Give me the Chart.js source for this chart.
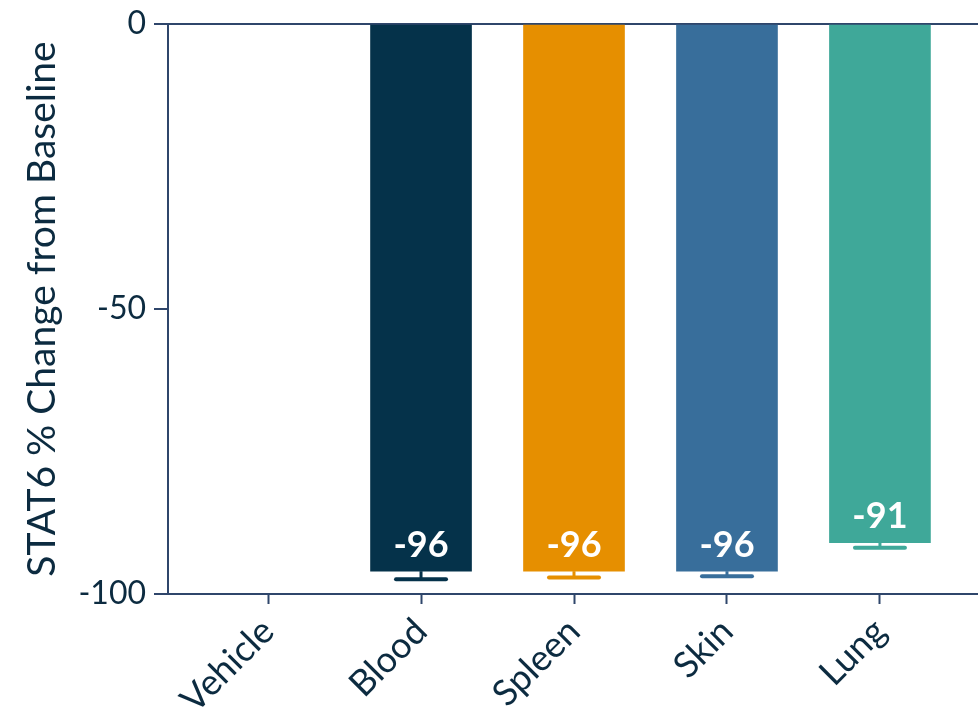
<!DOCTYPE html>
<html>
<head>
<meta charset="utf-8">
<script src="https://cdn.jsdelivr.net/npm/chart.js@4"></script>
<style>
  body { margin: 0; background: #ffffff; overflow: hidden; }
  #wrap { width: 1000px; height: 714px; }
</style>
</head>
<body>
<div id="wrap"><canvas id="stat6Chart"></canvas></div>
<script>
const tissues = ['Vehicle', 'Blood', 'Spleen', 'Skin', 'Lung'];
const changeFromBaseline = [0, -96, -96, -96, -91];
const errorSD = [0, 1.4, 1.1, 0.9, 0.9];
const barColors = ['rgba(0,0,0,0)', '#05324a', '#e68f00', '#386e9b', '#3fa899'];
const yTicks = [-100, -50, 0];

const axisColor = '#2f466b';
const textColor = '#0c2b40';

// error whiskers under each bar
const errorBars = {
  id: 'errorBars',
  afterDatasetsDraw(chart) {
    const ctx = chart.ctx;
    const y = chart.scales.y;
    chart.getDatasetMeta(0).data.forEach((bar, i) => {
      if (!errorSD[i]) return;
      const yEnd = y.getPixelForValue(changeFromBaseline[i] - errorSD[i]);
      ctx.save();
      ctx.strokeStyle = barColors[i];
      ctx.lineWidth = 3;
      ctx.beginPath();
      ctx.moveTo(bar.x, bar.y);
      ctx.lineTo(bar.x, yEnd);
      ctx.stroke();
      ctx.lineWidth = 4;
      ctx.lineCap = 'round';
      ctx.beginPath();
      ctx.moveTo(bar.x - 25, yEnd);
      ctx.lineTo(bar.x + 25, yEnd);
      ctx.stroke();
      ctx.restore();
    });
  }
};

// value printed inside the bar end
const valueLabels = {
  id: 'valueLabels',
  afterDatasetsDraw(chart) {
    const ctx = chart.ctx;
    chart.getDatasetMeta(0).data.forEach((bar, i) => {
      if (!changeFromBaseline[i]) return;
      ctx.save();
      ctx.fillStyle = '#ffffff';
      ctx.font = 'bold 36px Lato';
      ctx.textAlign = 'center';
      ctx.textBaseline = 'middle';
      ctx.fillText(String(changeFromBaseline[i]), bar.x, bar.y - 26);
      ctx.restore();
    });
  }
};

const ctx = document.getElementById('stat6Chart').getContext('2d');
new Chart(ctx, {
  type: 'bar',
  data: {
    datasets: [{
      data: tissues.map((t, i) => ({ x: i, y: changeFromBaseline[i] })),
      backgroundColor: barColors,
      borderWidth: 0,
      barThickness: 101
    }]
  },
  options: {
    responsive: true,
    maintainAspectRatio: false,
    animation: false,
    layout: { padding: { top: 22, right: 20, left: 0, bottom: 0 } },
    plugins: {
      legend: { display: false },
      tooltip: { enabled: false }
    },
    scales: {
      x: {
        type: 'linear',
        offset: false,
        min: -0.654,
        max: 4.654,
        afterBuildTicks(scale) {
          scale.ticks = tissues.map((t, i) => ({ value: i }));
        },
        afterFit(scale) { scale.height = 120; },
        border: { display: true, color: axisColor, width: 2 },
        grid: { offset: false, drawOnChartArea: false, drawTicks: true, tickLength: 10, tickColor: axisColor, tickWidth: 2 },
        ticks: {
          autoSkip: false,
          maxRotation: 45,
          minRotation: 45,
          padding: 6,
          color: textColor,
          font: { family: 'Lato', size: 36 },
          callback: (value) => tissues[value]
        }
      },
      y: {
        min: -100,
        max: 0,
        afterBuildTicks(scale) {
          scale.ticks = yTicks.map(v => ({ value: v }));
        },
        afterFit(scale) { scale.width = 168; },
        border: { display: true, color: axisColor, width: 2 },
        grid: {
          color: (c) => (c.tick && c.tick.value === 0 ? axisColor : 'transparent'),
          lineWidth: 2,
          tickColor: axisColor,
          tickLength: 14,
          tickWidth: 2
        },
        ticks: {
          padding: 8,
          color: textColor,
          font: { family: 'Lato', size: 32, lineHeight: 1 }
        },
        title: {
          display: true,
          text: 'STAT6 % Change from Baseline',
          color: textColor,
          font: { family: 'Lato', size: 39 },
          padding: { top: 19, bottom: 0 }
        }
      }
    }
  },
  plugins: [errorBars, valueLabels]
});
</script>
</body>
</html>
